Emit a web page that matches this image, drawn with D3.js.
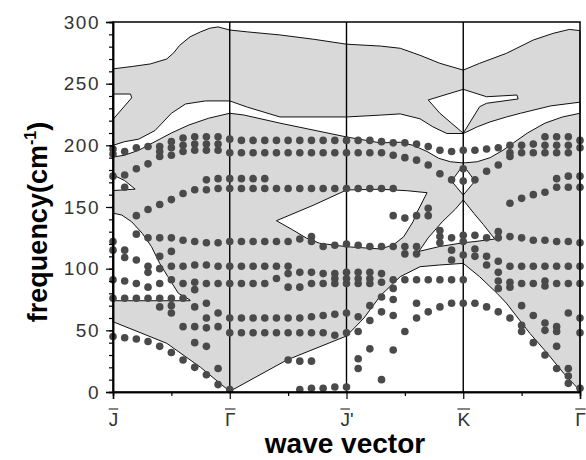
<!DOCTYPE html>
<html>
<head>
<meta charset="utf-8">
<script src="https://cdn.jsdelivr.net/npm/d3@7"></script>
<style>
  body { margin: 0; background: #fff; }
  svg { display: block; }
</style>
</head>
<body>
<div id="chart"></div>
<script>
// ---- data ----
const kTicks = [0, 1, 2, 3, 4]
const kLetters = ['J', '\u0393', 'J', 'K', '\u0393']
const kSuffix = ['', '', '\'', '', '']
const kMinor = [0.5, 1.5, 2.5, 3.5]

// projected bulk bands (wave vector, frequency)
const bandTop = [[0,262],[0.17,264],[0.32,266],[0.46,270],[0.52,275],[0.57,281],[0.66,288],[0.75,292],[0.83,295],[0.9,296],[1,293.5],[1.15,292],[1.43,289.5],[1.72,286],[2,282],[2.29,280.5],[2.46,278.7],[2.63,273],[2.8,266.5],[3,261],[3.14,266.5],[3.37,274.6],[3.6,285.4],[3.77,290.8],[3.91,294],[4,293]]
const bandBottom = [[0,57],[0.46,39.5],[0.75,20],[1,0.5],[1.49,26],[2,45.4],[2.15,60],[2.29,78],[2.46,93.5],[2.63,101.6],[2.8,103],[3,104.3],[3.14,93.5],[3.29,80],[3.37,72],[3.57,47.6],[3.72,31.4],[3.86,15.2],[4,1]]

// gaps inside the bands
const gapUpper = [[0,200],[0.1,203],[0.22,205],[0.36,212],[0.5,226],[0.62,233.5],[0.79,236],[1,236],[1.15,231],[1.43,223],[2,223],[2.29,224.5],[2.46,225.5],[2.63,221.5],[2.74,215],[2.86,209.6],[3,209.6],[3.12,215],[3.23,219],[3.37,223],[3.49,226],[3.75,232],[4,235]]
const gapLower = [[0,190.5],[0.1,192],[0.22,196],[0.36,203],[0.5,210],[0.65,216.5],[0.82,222],[1,226],[1.12,224.6],[1.43,218],[2,206.8],[2.29,202],[2.46,202.5],[2.57,200],[2.69,195],[2.79,189.5],[2.89,186.7],[3,185.7],[3.12,186.7],[3.23,190],[3.34,196],[3.43,202],[3.55,210],[3.7,218],[3.85,223],[4,226]]
const notchJ = [[0,241.6],[0.15,241.6],[0.16,238.5],[0,221]]
const wedgeJ = [[0,176],[0.1,171.4],[0.19,164.5],[0,163.3]]
const pocketJ = [[0,145],[0.075,143.5],[0.16,138],[0.25,128.7],[0.33,117.8],[0.4,104.3],[0.47,93.5],[0.56,80],[0.66,74.6],[0.66,74],[0,74]]
const pocketMid = [[1.4,138.9],[1.72,151.6],[2,163.8],[2.29,164.4],[2.52,163.2],[2.69,161.6],[2.6,144.9],[2.57,138.1],[2.49,125.9],[2.4,119.2],[2.29,116],[2,117.8],[1.77,120.6],[1.66,124.6],[1.54,131.4]]
const pocketKtop = [[2.7,236.8],[3,245.4],[3.2,239.4],[3.46,240.8],[3.47,237.6],[3.2,234.1],[3.14,231.3],[3,209.8],[2.8,226]]
const diamondK = [[3,184],[3.1,171],[3,159.7],[2.9,171]]
const pocketK = [[3,155.7],[3.09,145],[3.17,136],[3.27,124],[3.1,122],[3,121],[2.8,118],[2.62,114],[2.7,125],[2.82,138],[2.93,148]]

// calculated modes, one list of frequencies per wave vector
const kJG = [0, 0.1, 0.2, 0.3, 0.4, 0.5, 0.6, 0.7, 0.8, 0.9, 1.0]
const fJG = [
  [197,193,175,122,115,91,76,45],
  [195,176,166,115,109,90,76,44],
  [198,181,143,128,107,88,76,43],
  [199,185,148,125,102,97,85,76,41],
  [199,195,191,152,125,110,100,88,76,69,37],
  [203,198,192,156,125,114,102,91,76,70,64,32],
  [206,200,195,161,123,102,88,76,53,26],
  [207,201,196,164,122,103,89,83,69,53,40,20],
  [207,201,196,172,164,121,103,88,72,60,52,37,14],
  [207,201,196,173,165,121,102,88,64,53,19,6],
  [205,194,173,165,122,102,88,60,48,2]
]
const kGJ = [1.1, 1.2, 1.3, 1.4, 1.5, 1.6, 1.7, 1.8, 1.9, 2.0]
const fGJ = [
  [204,194,173,165,122,102,88,60,48],
  [204,194,173,165,122,102,88,60,48],
  [204,194,173,165,122,102,88,60,48],
  [204,194,165,122,102,92,60,48],
  [204,194,165,122,102,96,85,60,48,26],
  [204,194,165,124,97,85,60,48,25,2],
  [204,194,165,126,122,97,88,61,48,25,3],
  [204,194,165,118,96,88,62,48,3],
  [204,194,165,119,96,92,88,63,46,4],
  [204,194,165,120,97,92,88,64,48,4]
]
const kJK = [2.1, 2.2, 2.3, 2.4, 2.5, 2.6, 2.7, 2.8, 2.9, 3.0]
const fJK = [
  [204,194,165,119,97,92,88,61,49,27,19],
  [204,194,165,118,97,92,88,70,58,35],
  [203,194,165,118,96,89,77,65,10],
  [202,192,165,143,118,91,84,75,62,34],
  [202,190,141,118,112,91,49],
  [201,188,143,118,112,91,72,60],
  [199,184,149,143,91,65],
  [196,177,131,126,121,91,69],
  [195,172,125,115,107,91,72],
  [196,181,171,127,122,111,91,72]
]
const kKG = [3.1, 3.2, 3.3, 3.4, 3.5, 3.6, 3.7, 3.8, 3.9, 4.0]
const fKG = [
  [196,172,127,116,110,72],
  [197,179,125,110,103,69],
  [198,184,130,125,106,97,90,84,65],
  [200,194,191,153,126,102,89,85,60],
  [200,194,157,125,102,88,70,54,49],
  [201,194,160,123,102,88,62,40],
  [207,200,194,162,123,102,90,86,56,50,30],
  [207,200,194,173,166,122,102,88,53,49,37,19],
  [207,200,194,175,166,122,102,88,64,19,13,7],
  [204,198,175,166,121,102,88,60,48,3]
]

// ---- chart ----
const W = 586, H = 460
const plot = { left: 113, right: 580, top: 22, bottom: 392 }

const svg = d3.select('#chart').append('svg')
  .attr('width', W).attr('height', H)
  .style('font-family', '"Liberation Sans", Arial, sans-serif')

const xScale = d3.scaleLinear().domain([0, 4]).range([plot.left, plot.right])
const yScale = d3.scaleLinear().domain([0, 300]).range([plot.bottom, plot.top])

const line = d3.line().x(d => xScale(d[0])).y(d => yScale(d[1]))
const ring = pts => line(pts) + 'Z'

// grey envelope of the bands
svg.append('path')
  .attr('d', ring(bandTop.concat(bandBottom.slice().reverse())))
  .attr('fill', '#d9d9d9').attr('stroke', '#111').attr('stroke-width', 1)

const holes = [
  gapUpper.concat(gapLower.slice().reverse()),
  notchJ, wedgeJ, pocketJ, pocketMid, pocketKtop, diamondK, pocketK
]
svg.selectAll('path.hole')
  .data(holes)
  .join('path')
    .attr('class', 'hole')
    .attr('d', d => ring(d))
    .attr('fill', '#fff').attr('stroke', '#111').attr('stroke-width', 1)

// vertical lines at the symmetry points
svg.selectAll('line.sym')
  .data([1, 2, 3])
  .join('line')
    .attr('class', 'sym')
    .attr('x1', d => xScale(d)).attr('x2', d => xScale(d))
    .attr('y1', plot.top).attr('y2', plot.bottom)
    .attr('stroke', '#000').attr('stroke-width', 1.4)

// dots
const segs = [[kJG, fJG], [kGJ, fGJ], [kJK, fJK], [kKG, fKG]]
const dots = []
segs.forEach(([ks, fs]) => ks.forEach((k, i) => fs[i].forEach(f => dots.push([k, f]))))

svg.selectAll('circle')
  .data(dots)
  .join('circle')
    .attr('cx', d => xScale(d[0]))
    .attr('cy', d => yScale(d[1]))
    .attr('r', 3.8)
    .attr('fill', '#4a4a4a')

// frame
svg.append('rect')
  .attr('x', plot.left).attr('y', plot.top)
  .attr('width', plot.right - plot.left).attr('height', plot.bottom - plot.top)
  .attr('fill', 'none').attr('stroke', '#000').attr('stroke-width', 1.5)

// axes
const yAxis = svg.append('g')
  .attr('transform', `translate(${plot.left},0)`)
  .call(d3.axisLeft(yScale).tickValues(d3.range(0, 301, 50)).tickSize(7).tickPadding(6).tickFormat(d3.format('d')))
svg.append('g')
  .attr('transform', `translate(${plot.left},0)`)
  .call(d3.axisLeft(yScale).tickValues(d3.range(0, 301, 10)).tickSize(4).tickFormat(''))

const xAxis = svg.append('g')
  .attr('transform', `translate(0,${plot.bottom})`)
  .call(d3.axisBottom(xScale).tickValues(kTicks).tickSize(7).tickPadding(14).tickFormat(''))
svg.append('g')
  .attr('transform', `translate(0,${plot.bottom})`)
  .call(d3.axisBottom(xScale).tickValues(kMinor).tickSize(4).tickFormat(''))

svg.selectAll('.domain').attr('stroke', '#000').attr('stroke-width', 1.5)
svg.selectAll('.tick line').attr('stroke', '#000').attr('stroke-width', 1.2)
yAxis.selectAll('.tick text')
  .attr('font-family', '"Liberation Sans", Arial, sans-serif')
  .attr('font-size', 19).attr('fill', '#333').attr('letter-spacing', 1.5)

// symmetry point labels with an overbar on the letter
const labels = xAxis.selectAll('.tick').append('g')
labels.each(function (d, i) {
  const g = d3.select(this)
  const t = g.append('text')
    .attr('y', 34).attr('text-anchor', 'middle')
    .attr('font-family', '"Liberation Sans", Arial, sans-serif')
    .attr('font-size', 19).attr('fill', '#333')
  const main = t.append('tspan').text(kLetters[i])
  t.append('tspan').text(kSuffix[i])
  const bb = t.node().getBBox()
  const w = main.node().getComputedTextLength()
  g.append('line')
    .attr('x1', bb.x).attr('x2', bb.x + w)
    .attr('y1', 17).attr('y2', 17)
    .attr('stroke', '#333').attr('stroke-width', 1.2)
})

// titles
svg.append('text')
  .attr('x', 345).attr('y', 453)
  .attr('text-anchor', 'middle')
  .attr('font-size', 28).attr('font-weight', 'bold')
  .text('wave vector')

const yt = svg.append('text')
  .attr('transform', 'translate(47,222) rotate(-90)')
  .attr('text-anchor', 'middle')
  .attr('font-size', 27).attr('font-weight', 'bold')
yt.append('tspan').text('frequency(cm')
yt.append('tspan').attr('font-size', 16).attr('dy', -11).text('-1')
yt.append('tspan').attr('dy', 11).text(')')
</script>
</body>
</html>
